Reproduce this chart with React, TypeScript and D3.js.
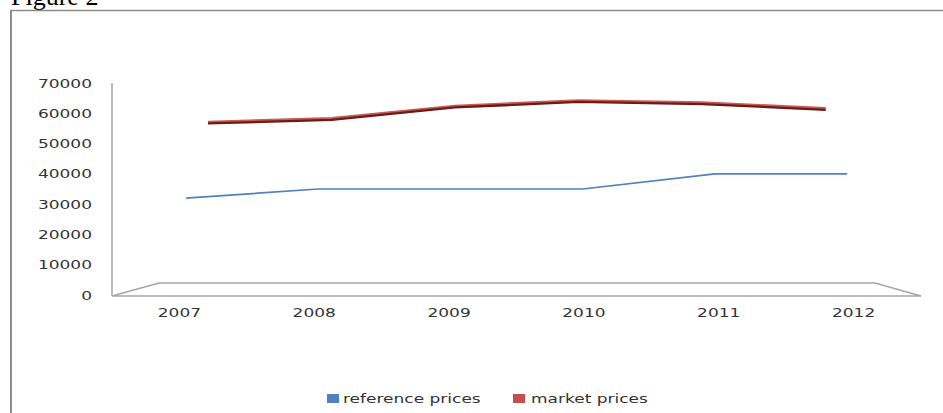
import React from 'react';
import * as d3 from 'd3';

const years = ['2007', '2008', '2009', '2010', '2011', '2012'];
const referencePrices = [32000, 35000, 35000, 35000, 40000, 40000];
const marketPrices = [56900, 58100, 62200, 64000, 63300, 61400];
const yTicks = [0, 10000, 20000, 30000, 40000, 50000, 60000, 70000];
const seriesNames = ['reference prices', 'market prices'];

const W = 943;
const H = 413;
const FRONT = { x0: 112, x1: 921, y: 296 };
const BACK = { x0: 159, x1: 875, y: 283 };
const FONT = "'DejaVu Sans', Verdana, sans-serif";
const SX = 1.35;

const lerp = (a: number, b: number, t: number) => a + (b - a) * t;

function bandAt(depth: number) {
  return d3
    .scaleBand<string>()
    .domain(years)
    .range([lerp(FRONT.x0, BACK.x0, depth), lerp(FRONT.x1, BACK.x1, depth)]);
}

const yScale = d3.scaleLinear().domain([0, 70000]).range([295, 83]);

function Txt({ x, y, anchor, children, size = 12.6 }: any) {
  return (
    <g transform={`translate(${x},${y}) scale(${SX},1)`}>
      <text x={0} y={0} textAnchor={anchor} fontFamily={FONT} fontSize={size} fill="#333">
        {children}
      </text>
    </g>
  );
}

export default function App() {
  const frontBand = bandAt(0);
  const blueBand = bandAt(0.17);
  const redBand = bandAt(0.73);
  const bx = (b: d3.ScaleBand<string>, k: string) => (b(k) as number) + b.bandwidth() / 2;

  const blueLine = d3
    .line<number>()
    .x((_, i) => bx(blueBand, years[i]))
    .y((v) => yScale(v))(referencePrices) as string;
  const redLine = d3
    .line<number>()
    .x((_, i) => bx(redBand, years[i]))
    .y((v) => yScale(v))(marketPrices) as string;

  const floor = `M${FRONT.x0},${FRONT.y} L${BACK.x0},${BACK.y} L${BACK.x1},${BACK.y} L${FRONT.x1},${FRONT.y} Z`;

  return (
    <svg
      width={W}
      height={H}
      style={{ position: 'absolute', left: 0, top: 0, background: '#fff' }}
    >
      <rect x={0} y={0} width={W} height={H} fill="#fff" />
      {/* title */}
      <text x={11} y={5} fontFamily="'Liberation Serif', 'Times New Roman', serif" fontSize={26} fill="#000">
        Figure 2
      </text>
      {/* frame */}
      <line x1={11} y1={10.5} x2={W} y2={10.5} stroke="#8c8c8c" strokeWidth={1.5} />
      <line x1={11} y1={10} x2={11} y2={H} stroke="#8c8c8c" strokeWidth={2} />

      {/* floor */}
      <path d={floor} fill="none" stroke="#a6a6a6" strokeWidth={1.5} />
      {/* y axis */}
      <line x1={FRONT.x0} y1={yScale(70000)} x2={FRONT.x0} y2={FRONT.y} stroke="#a6a6a6" strokeWidth={1.5} />

      {yTicks.map((t) => (
        <Txt key={t} x={92} y={yScale(t) + 4.5} anchor="end">
          {String(t)}
        </Txt>
      ))}

      {years.map((yr) => (
        <Txt key={yr} x={bx(frontBand, yr)} y={317} anchor="middle">
          {yr}
        </Txt>
      ))}

      {/* market prices ribbon */}
      <path d={redLine} fill="none" stroke="#cc5a56" strokeWidth={3.2} transform="translate(0,-0.4)" />
      <path d={redLine} fill="none" stroke="#6a1c19" strokeWidth={2.3} transform="translate(0,0.8)" />

      {/* reference prices */}
      <path d={blueLine} fill="none" stroke="#4f81bd" strokeWidth={1.7} />

      {/* legend */}
      <rect x={327} y={394} width={12} height={9} fill="#4f81bd" />
      <Txt x={343} y={403} anchor="start">{seriesNames[0]}</Txt>
      <rect x={513} y={394} width={12} height={9} fill="#c0504d" />
      <Txt x={531} y={403} anchor="start">{seriesNames[1]}</Txt>
    </svg>
  );
}
